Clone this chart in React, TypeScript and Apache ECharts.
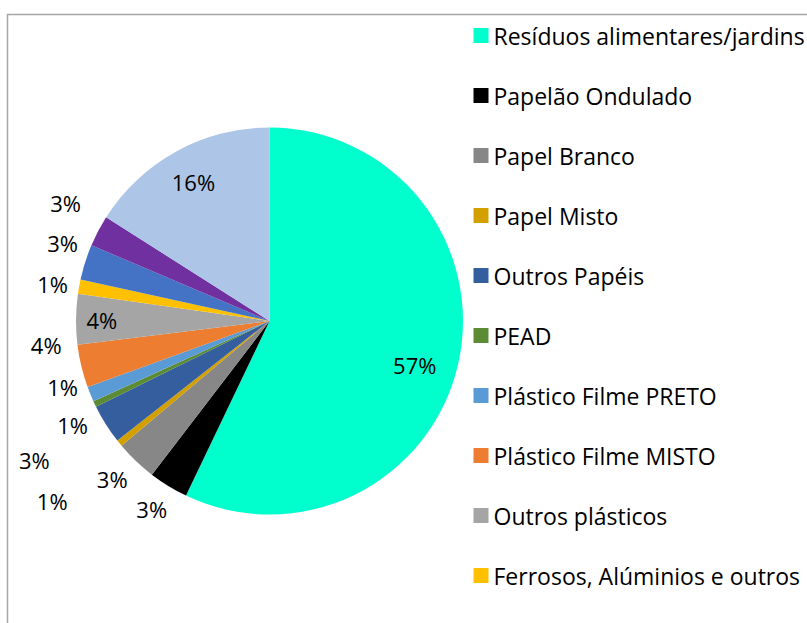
import React, { useEffect, useRef } from "react";
import * as echarts from "echarts";

const categories = [
  "Resíduos alimentares/jardins",
  "Papelão Ondulado",
  "Papel Branco",
  "Papel Misto",
  "Outros Papéis",
  "PEAD",
  "Plástico Filme PRETO",
  "Plástico Filme MISTO",
  "Outros plásticos",
  "Ferrosos, Alúminios e outros",
  "Vidro",
  "Têxteis",
  "Outros",
];

const values = [57.1, 3.3, 3.45, 0.55, 3.3, 0.5, 1.25, 3.6, 4.2, 1.2, 2.95, 2.6, 16.0];

const colors = [
  "#00FFCC",
  "#000000",
  "#878787",
  "#D4A000",
  "#355E9E",
  "#5B8C35",
  "#5B9BD5",
  "#ED7D31",
  "#A5A5A5",
  "#FFC000",
  "#4472C4",
  "#7030A0",
  "#ADC5E6",
];

// legend shows only the entries visible in the (cropped) reference
const legendCategories = categories.slice(0, 10);

// labels drawn inside their slice
const insideLabelIndexes = [0, 8, 12];

// per-label nudges (dx, dy) applied after the library's own label layout
const labelOffsets = [
  [48, 22],
  [4, -3],
  [2, -4],
  [-39, 39],
  [-41, 20],
  [10, 8],
  [5, -19],
  [-1, -28],
  [-68, 0],
  [8, 3],
  [11, -10],
  [-1, -14],
  [-28, -52],
];

const FONT = "'Open Sans', sans-serif";

export default function App() {
  const ref = useRef<HTMLDivElement>(null);

  useEffect(() => {
    if (!ref.current) return;
    const chart = echarts.init(ref.current, null, { renderer: "svg" });
    const data = categories.map((name, i) => ({
      name,
      value: values[i],
      itemStyle: { color: colors[i] },
      label: { position: insideLabelIndexes.includes(i) ? "inside" : "outside" },
    }));
    chart.setOption({
      animation: false,
      backgroundColor: "#ffffff",
      graphic: [
        {
          type: "rect",
          shape: { x: 7.5, y: 14.5, width: 900, height: 700 },
          style: { fill: "none", stroke: "#a6a6a6", lineWidth: 1.5 },
          silent: true,
          z: 0,
        },
      ],
      legend: {
        orient: "vertical",
        left: 468.5,
        top: 18.5,
        data: legendCategories,
        icon: "rect",
        itemWidth: 15,
        itemHeight: 15,
        itemGap: 36,
        selectedMode: false,
        textStyle: {
          fontFamily: FONT,
          fontSize: 23,
          lineHeight: 24,
          color: "#000000",
        },
      },
      series: [
        {
          type: "pie",
          center: [269.5, 321],
          radius: 193.5,
          startAngle: 90,
          clockwise: true,
          avoidLabelOverlap: false,
          silent: true,
          itemStyle: { borderWidth: 0 },
          label: {
            show: true,
            fontFamily: FONT,
            fontSize: 22,
            color: "#000000",
            formatter: (p: any) => Math.round(p.percent) + "%",
          },
          labelLine: { show: false, length: 30, length2: 0 },
          labelLayout: (params: any) => {
            const o = labelOffsets[params.dataIndex];
            return { dx: o[0], dy: o[1], align: "center" };
          },
          emphasis: { disabled: true },
          data,
        },
      ],
    });
    return () => chart.dispose();
  }, []);

  return (
    <div
      ref={ref}
      style={{ position: "absolute", left: 0, top: 0, width: 807, height: 623 }}
    />
  );
}
